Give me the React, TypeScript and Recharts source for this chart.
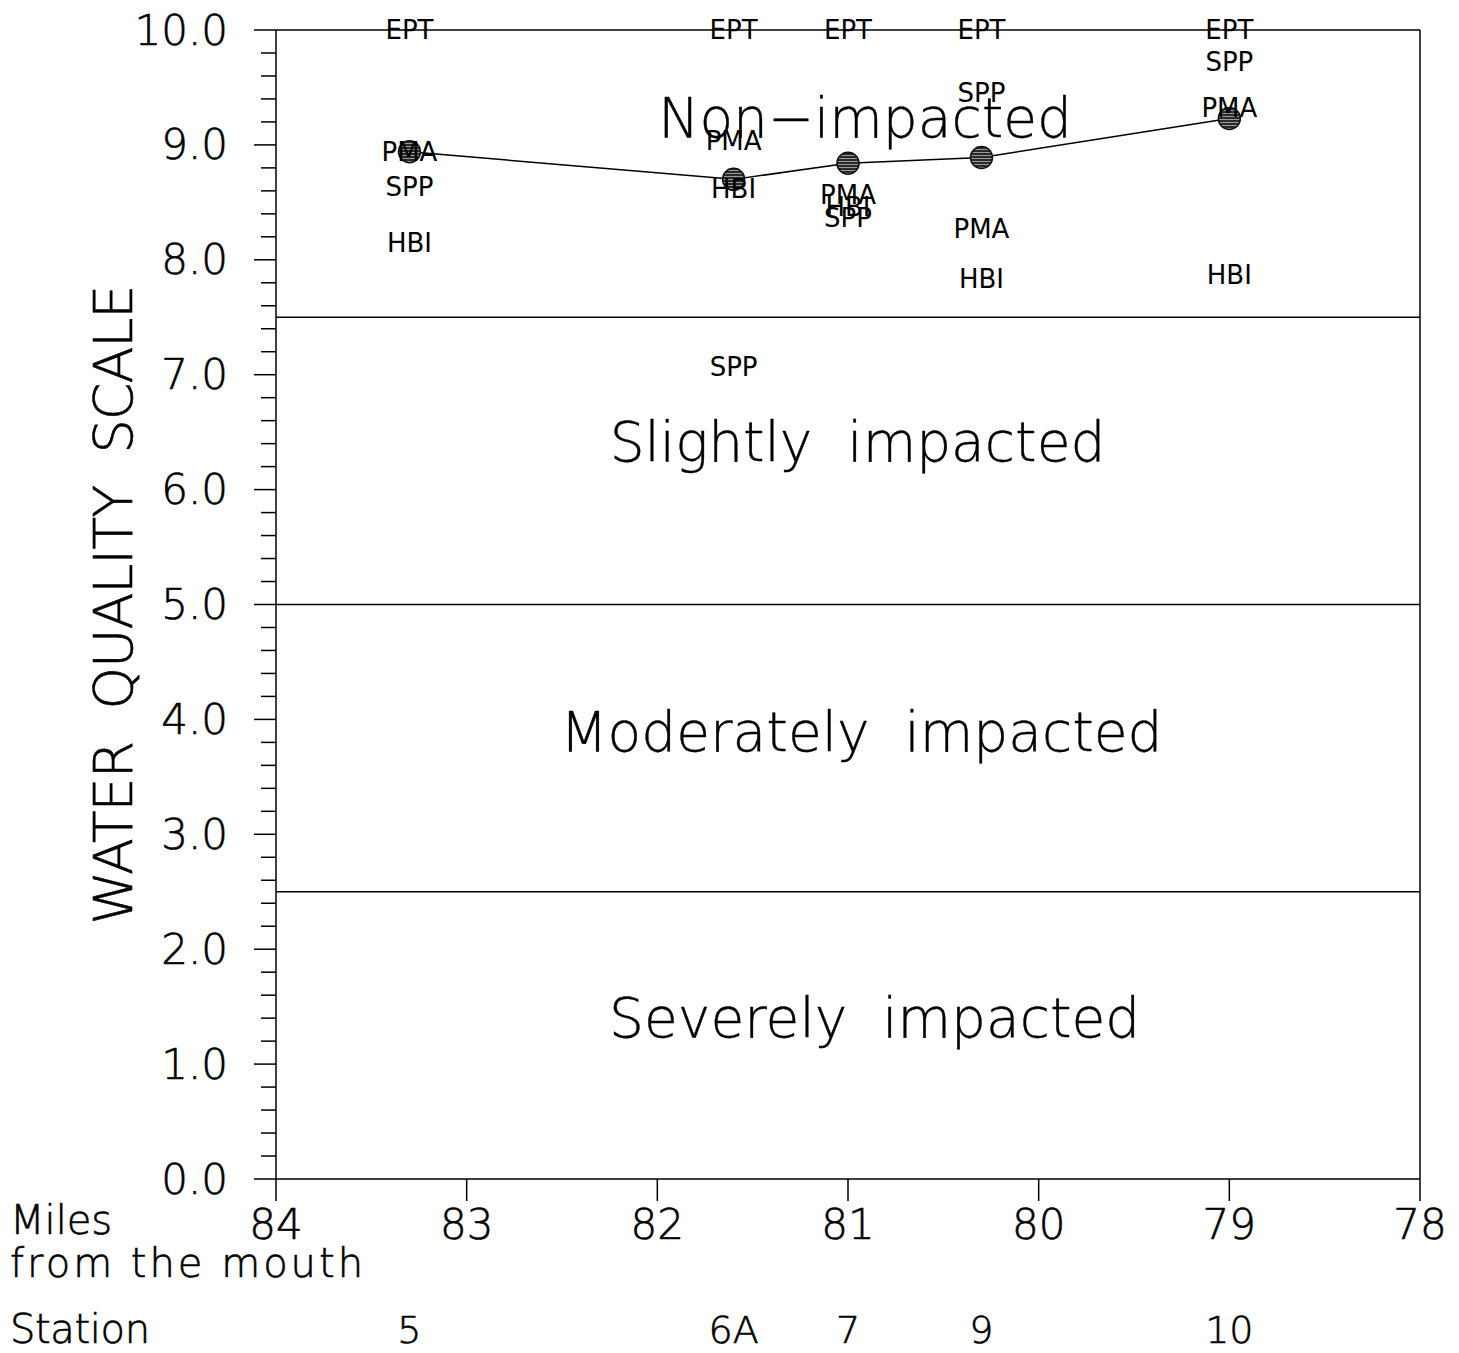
import React from "react";
import { ComposedChart, Line, Scatter, XAxis, YAxis, ReferenceLine } from "recharts";

// sampling stations along the river
const stations = ["5", "6A", "7", "9", "10"];
const stationMiles = [83.3, 81.6, 81.0, 80.3, 79.0];

// combined water quality score per station
const overallScore = [8.94, 8.7, 8.84, 8.89, 9.23];

// individual metric scores per station
const eptScore = [10.0, 10.0, 10.0, 10.0, 10.0];
const pmaScore = [8.94, 9.03, 8.56, 8.27, 9.32];
const sppScore = [8.63, 7.07, 8.36, 9.45, 9.72];
const hbiScore = [8.15, 8.62, 8.46, 7.83, 7.87];

const mileTicks = [84, 83, 82, 81, 80, 79, 78];
const scaleTicks = [0, 1, 2, 3, 4, 5, 6, 7, 8, 9, 10];

// impact zones
const zoneBounds = [7.5, 5.0, 2.5];
const zoneNames = ["Non\u2212impacted", "Slightly  impacted", "Moderately  impacted", "Severely  impacted"];
const zoneMiles = [80.91, 80.95, 80.93, 80.86];
const zoneLevels = [9.23, 6.41, 3.89, 1.4];

const FONT = "'DejaVu Sans', sans-serif";
const THIN = 200;

const minorTicks: number[] = [];
scaleTicks.slice(0, -1).forEach((t) => {
  for (let k = 0; k < 5; k++) minorTicks.push(Math.round((t + k * 0.2) * 10) / 10);
});
minorTicks.push(10);

const toRows = (scores: number[]) => stationMiles.map((mile, i) => ({ mile, score: scores[i] }));

const lineRows = toRows(overallScore);
const zoneRows = zoneNames.map((name, i) => ({ mile: zoneMiles[i], score: zoneLevels[i], name }));

const metrics = [
  { name: "EPT", rows: toRows(eptScore) },
  { name: "PMA", rows: toRows(pmaScore) },
  { name: "SPP", rows: toRows(sppScore) },
  { name: "HBI", rows: toRows(hbiScore) },
];

function ScaleTick(props: any) {
  const { x, y, payload } = props;
  const v = payload.value as number;
  const major = Math.abs(v - Math.round(v)) < 1e-6;
  return (
    <g>
      <line x1={x} x2={x - (major ? 22 : 15)} y1={y} y2={y} stroke="#000" strokeWidth={1.5} />
      {major && (
        <text
          x={x - 48}
          y={y}
          textAnchor="end"
          dominantBaseline="central"
          fontSize={42}
          fontWeight={THIN}
          fontFamily={FONT}
          fill="#000"
          stroke="#000"
          strokeWidth={0.6}
        >
          {v.toFixed(1)}
        </text>
      )}
    </g>
  );
}

function MileTick(props: any) {
  const { x, y, payload } = props;
  return (
    <text
      x={x}
      y={y + 23}
      textAnchor="middle"
      dominantBaseline="central"
      fontSize={42}
      fontWeight={THIN}
      fontFamily={FONT}
      fill="#000"
      stroke="#000"
      strokeWidth={0.6}
    >
      {payload.value}
    </text>
  );
}

function StationTick(props: any) {
  const { x, y, payload } = props;
  const idx = stationMiles.indexOf(payload.value);
  return (
    <text
      x={x}
      y={y + 81}
      textAnchor="middle"
      dominantBaseline="central"
      fontSize={38}
      fontWeight={THIN}
      fontFamily={FONT}
      fill="#000"
      stroke="#000"
      strokeWidth={0.6}
    >
      {stations[idx]}
    </text>
  );
}

function MileLabel(props: any) {
  const y = props.viewBox?.y ?? 1179;
  return (
    <g fontFamily={FONT} fontSize={40} fontWeight={THIN} fill="#000" stroke="#000" strokeWidth={0.6} style={{ whiteSpace: "pre" }}>
      <text x={10} y={y + 41} dominantBaseline="central">Miles</text>
      <text x={10} y={y + 84} dominantBaseline="central" textLength={353} lengthAdjust="spacing">
        from  the  mouth
      </text>
    </g>
  );
}

function StationLabel(props: any) {
  const y = props.viewBox?.y ?? 1249;
  return (
    <text
      x={10}
      y={y + 80}
      dominantBaseline="central"
      fontFamily={FONT}
      fontSize={40}
      fontWeight={THIN}
      fill="#000"
      stroke="#000"
      strokeWidth={0.6}
      textLength={140}
      lengthAdjust="spacing"
    >
      Station
    </text>
  );
}

function ScaleLabel(props: any) {
  const vb = props.viewBox ?? { x: 0, y: 30, width: 276, height: 1149 };
  const cy = vb.y + vb.height / 2;
  return (
    <text
      x={113}
      y={cy}
      transform={`rotate(-90 113 ${cy})`}
      textAnchor="middle"
      dominantBaseline="central"
      fontFamily={FONT}
      fontSize={54}
      fontWeight={THIN}
      fill="#000"
      stroke="#000"
      strokeWidth={0.6}
      textLength={640}
      lengthAdjust="spacing"
      style={{ whiteSpace: "pre" }}
    >
      WATER  QUALITY  SCALE
    </text>
  );
}

const HatchDot = (props: any) => {
  const { cx, cy } = props;
  if (cx == null || cy == null) return null;
  return <circle cx={cx} cy={cy} r={11} fill="url(#hatch)" stroke="#111" strokeWidth={1.5} />;
};

const textShape = (label: string) => (props: any) => (
  <text x={props.cx} y={props.cy} textAnchor="middle" dominantBaseline="central" fontFamily={FONT} fontSize={26} fill="#000">
    {label}
  </text>
);

const ZoneShape = (props: any) => (
  <text
    x={props.cx}
    y={props.cy}
    textAnchor="middle"
    dominantBaseline="central"
    fontFamily={FONT}
    fontSize={55}
    fontWeight={THIN}
    fill="#000"
    stroke="#000"
    strokeWidth={0.4}
    style={{ whiteSpace: "pre" }}
  >
    {props.payload?.name}
  </text>
);

const NoShape = () => <g />;

export default function App() {
  return (
    <div style={{ width: 1459, height: 1353, background: "#fff" }}>
      <style>{"body{margin:0;background:#fff}"}</style>
      <ComposedChart width={1459} height={1353} margin={{ top: 30, right: 39, left: 0, bottom: 0 }}>
        <defs>
          <pattern id="hatch" width={4} height={3} patternUnits="userSpaceOnUse">
            <rect width={4} height={3} fill="#2a2a2a" />
            <rect y={2} width={4} height={1} fill="#9a9a9a" />
          </pattern>
        </defs>
        <XAxis
          xAxisId="mile"
          dataKey="mile"
          type="number"
          domain={[78, 84]}
          reversed
          ticks={mileTicks}
          interval={0}
          tickSize={22}
          tickMargin={0}
          tickLine={{ stroke: "#000", strokeWidth: 1.5 }}
          axisLine={{ stroke: "#000", strokeWidth: 1.5 }}
          tick={<MileTick />}
          height={70}
          label={<MileLabel />}
        />
        <XAxis
          xAxisId="station"
          dataKey="mile"
          type="number"
          domain={[78, 84]}
          reversed
          ticks={stationMiles}
          interval={0}
          tickSize={0}
          tickMargin={0}
          tickLine={false}
          axisLine={false}
          tick={<StationTick />}
          height={104}
          label={<StationLabel />}
        />
        <YAxis
          dataKey="score"
          type="number"
          domain={[0, 10]}
          ticks={minorTicks}
          interval={0}
          tickSize={0}
          tickMargin={0}
          tickLine={false}
          axisLine={{ stroke: "#000", strokeWidth: 1.5 }}
          tick={<ScaleTick />}
          width={276}
          label={<ScaleLabel />}
        />
        <ReferenceLine xAxisId="mile" y={10} stroke="#000" strokeWidth={1.5} />
        <ReferenceLine xAxisId="mile" x={78} stroke="#000" strokeWidth={1.5} />
        {zoneBounds.map((b) => (
          <ReferenceLine key={b} xAxisId="mile" y={b} stroke="#000" strokeWidth={1.5} />
        ))}
        <Scatter xAxisId="station" data={lineRows} shape={NoShape} isAnimationActive={false} />
        <Scatter xAxisId="mile" data={zoneRows} shape={ZoneShape} isAnimationActive={false} />
        <Line
          xAxisId="mile"
          data={lineRows}
          dataKey="score"
          type="linear"
          stroke="#000"
          strokeWidth={1.5}
          dot={<HatchDot />}
          activeDot={false}
          isAnimationActive={false}
        />
        {metrics.map((m) => (
          <Scatter key={m.name} xAxisId="mile" data={m.rows} shape={textShape(m.name)} isAnimationActive={false} />
        ))}
      </ComposedChart>
    </div>
  );
}
